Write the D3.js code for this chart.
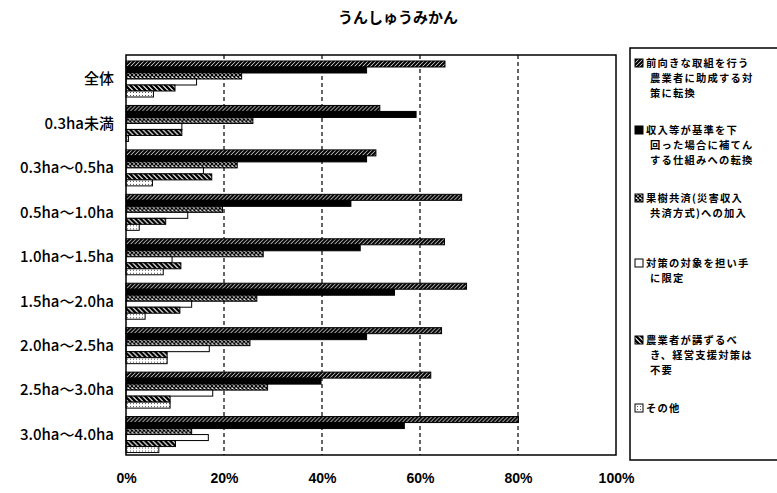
<!DOCTYPE html>
<html>
<head>
<meta charset="utf-8">
<script src="https://cdn.jsdelivr.net/npm/d3@7"></script>
<style>
  html, body { margin: 0; padding: 0; background: #fff; }
  svg { display: block; }
</style>
</head>
<body>
<svg id="chart" width="777" height="493"></svg>
<script>
// Farm size classes (rows of the chart)
const categories = [
  "全体", "0.3ha未満", "0.3ha～0.5ha", "0.5ha～1.0ha", "1.0ha～1.5ha",
  "1.5ha～2.0ha", "2.0ha～2.5ha", "2.5ha～3.0ha", "3.0ha～4.0ha"
];

// Answer options (series), legend text split into lines
const seriesKeys = ["s1", "s2", "s3", "s4", "s5", "s6"];
const legendLines = [
  ["前向きな取組を行う", "農業者に助成する対", "策に転換"],
  ["収入等が基準を下", "回った場合に補てん", "する仕組みへの転換"],
  ["果樹共済(災害収入", "共済方式)への加入"],
  ["対策の対象を担い手", "に限定"],
  ["農業者が講ずるべ", "き、経営支援対策は", "不要"],
  ["その他"]
];

// Share of respondents (%) per series, one value per category
const s1 = [65.1, 51.8, 51.0, 68.5, 65.0, 69.5, 64.4, 62.2, 80.1];
const s2 = [49.1, 59.2, 49.1, 45.9, 47.8, 54.8, 49.1, 39.8, 56.8];
const s3 = [23.6, 25.9, 22.7, 19.7, 28.0, 26.7, 25.3, 28.9, 13.4];
const s4 = [14.4, 11.4, 15.8, 12.6, 9.4, 13.4, 17.0, 17.7, 16.8];
const s5 = [10.0, 11.4, 17.5, 8.1, 11.2, 11.0, 8.4, 9.0, 10.1];
const s6 = [5.6, 0.5, 5.4, 2.7, 7.6, 3.9, 8.4, 9.0, 6.7];
const seriesValues = [s1, s2, s3, s4, s5, s6];

const xTicks = [0, 20, 40, 60, 80, 100];
const xTickLabels = ["0%", "20%", "40%", "60%", "80%", "100%"];
const title = "うんしゅうみかん";

const svg = d3.select("#chart");
const jpFont = "'Noto Sans CJK JP', 'Noto Sans', sans-serif";

// ---- fill patterns (monochrome) ----
const defs = svg.append("defs");
function hatch(id, size, draw) {
  const p = defs.append("pattern")
    .attr("id", id).attr("patternUnits", "userSpaceOnUse")
    .attr("width", size).attr("height", size);
  p.append("rect").attr("width", size).attr("height", size).attr("fill", "#fff");
  draw(p, size);
}
hatch("pFwd", 4, (p, s) => {
  p.append("path").attr("d", `M0,${s} L${s},0 M-1,1 L1,-1 M${s-1},${s+1} L${s+1},${s-1}`)
    .attr("stroke", "#000").attr("stroke-width", 2.2);
});
hatch("pCross", 4, (p, s) => {
  p.append("path").attr("d", `M0,0 L${s},${s} M0,${s} L${s},0`)
    .attr("stroke", "#000").attr("stroke-width", 1.3);
});
hatch("pBack", 5, (p, s) => {
  p.append("path").attr("d", `M0,0 L${s},${s} M-1,${s-1} L1,${s+1} M${s-1},-1 L${s+1},1`)
    .attr("stroke", "#000").attr("stroke-width", 2.4);
});
hatch("pDots", 3, (p, s) => {
  p.append("rect").attr("x", 1).attr("y", 1).attr("width", 1).attr("height", 1).attr("fill", "#555");
});
const fills = ["url(#pFwd)", "#000", "url(#pCross)", "#fff", "url(#pBack)", "url(#pDots)"];

// ---- layout ----
const plot = { left: 126, right: 616, top: 55, bottom: 455 };

const x = d3.scaleLinear().domain([0, 100]).range([plot.left, plot.right]);
const y = d3.scaleBand().domain(categories).range([plot.top, plot.bottom]).padding(0);
const yInner = d3.scaleBand().domain(seriesKeys)
  .range([6, 6 + 36]).padding(0);

// title
svg.append("text")
  .attr("x", 398).attr("y", 23)
  .attr("text-anchor", "middle")
  .attr("font-family", jpFont).attr("font-size", 15).attr("font-weight", 700)
  .text(title);

// plot background
svg.append("rect")
  .attr("x", plot.left).attr("y", plot.top)
  .attr("width", plot.right - plot.left).attr("height", plot.bottom - plot.top)
  .attr("fill", "#fff");

// dashed vertical gridlines
svg.append("g").selectAll("line")
  .data(xTicks.filter(t => t > 0 && t < 100))
  .join("line")
  .attr("x1", d => x(d)).attr("x2", d => x(d))
  .attr("y1", plot.top).attr("y2", plot.bottom)
  .attr("stroke", "#000").attr("stroke-width", 1.2)
  .attr("stroke-dasharray", "4,3");

// bars
const groups = svg.append("g").selectAll("g")
  .data(categories)
  .join("g")
  .attr("transform", d => `translate(0,${y(d)})`);

groups.selectAll("rect")
  .data((c, ci) => seriesKeys.map((k, si) => ({ k, si, v: seriesValues[si][ci] })))
  .join("rect")
  .attr("x", x(0))
  .attr("y", d => yInner(d.k))
  .attr("width", d => x(d.v) - x(0))
  .attr("height", yInner.bandwidth())
  .attr("fill", d => fills[d.si])
  .attr("stroke", "#000").attr("stroke-width", 1);

// plot frame
svg.append("rect")
  .attr("x", plot.left).attr("y", plot.top)
  .attr("width", plot.right - plot.left).attr("height", plot.bottom - plot.top)
  .attr("fill", "none").attr("stroke", "#000").attr("stroke-width", 1.5);

// category axis labels
svg.append("g").selectAll("text")
  .data(categories)
  .join("text")
  .attr("x", 114)
  .attr("y", d => y(d) + y.bandwidth() / 2 + 3)
  .attr("text-anchor", "end")
  .attr("dominant-baseline", "middle")
  .attr("font-family", jpFont).attr("font-size", 15).attr("font-weight", 500)
  .text(d => d);

// x axis (labels only; the frame draws the baseline)
const xAxis = d3.axisBottom(x)
  .tickValues(xTicks)
  .tickFormat((d, i) => xTickLabels[i])
  .tickSize(0).tickPadding(0);
const gx = svg.append("g")
  .attr("transform", `translate(0,${plot.bottom + 18})`)
  .call(xAxis);
gx.select(".domain").remove();
gx.selectAll("text")
  .attr("font-family", "'Liberation Sans', Arial, sans-serif")
  .attr("font-size", 14).attr("font-weight", 700)
  .attr("fill", "#000");

// legend
const legend = svg.append("g");
legend.append("rect")
  .attr("x", 630).attr("y", 48)
  .attr("width", 160).attr("height", 412)
  .attr("fill", "#fff").attr("stroke", "#000").attr("stroke-width", 1.5);

const legendTop = [63, 130, 198, 263, 340, 408];
const lineGap = 15;
legendLines.forEach((lines, i) => {
  const g = legend.append("g");
  g.append("rect")
    .attr("x", 635).attr("y", legendTop[i] - 4)
    .attr("width", 8).attr("height", 8)
    .attr("fill", fills[i]).attr("stroke", "#000").attr("stroke-width", 1);
  // one text element per entry, wrapped lines as tspans
  g.append("text")
    .attr("font-family", jpFont).attr("font-size", 10.3).attr("font-weight", 700)
    .attr("letter-spacing", 1.2)
    .selectAll("tspan")
    .data(lines)
    .join("tspan")
    .attr("x", (d, j) => j === 0 ? 646 : 650)
    .attr("y", (d, j) => legendTop[i] + 4 + j * lineGap)
    .text(d => d);
});
</script>
</body>
</html>
